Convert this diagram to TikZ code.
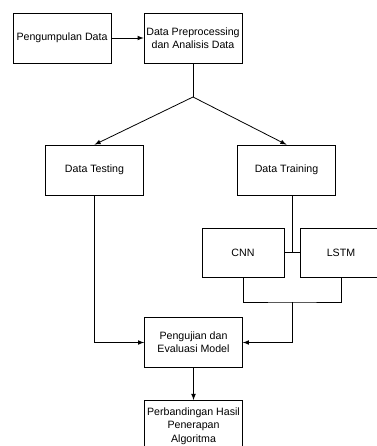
\documentclass[tikz,border=0pt]{standalone}
\usepackage{amssymb,amsmath}
\usepackage{fontspec}
\setmainfont{Liberation Sans}
\usepackage{tikz}
\usetikzlibrary{positioning}
\tikzstyle{every picture}+=[remember picture]

\begin{document}
\begin{tikzpicture}[x=0.02646cm,y=-0.02646cm,>=latex,line width=0.6pt]
\tikzstyle{box}=[draw,fill=white,minimum width=2.59cm,minimum height=1.32cm,
	align=center,inner sep=1pt,font=\fontsize{8}{10}\selectfont]
\tikzstyle{small box}=[box,minimum width=2.17cm,minimum height=1.30cm]
	\clip (0,0) rectangle (377,446);
	\fill[white] (0,0) rectangle (377,446);
    \node[box] (kumpul) at (62,38) {Pengumpulan Data};
    \node[box] (prep) at (193,38) {Data Preprocessing\\dan Analisis Data};
    \node[box] (testing) at (94.5,170) {Data Testing};
    \node[box] (training) at (286.5,170) {Data Training};
    \node[small box] (cnn) at (243,252.5) {CNN};
    \node[small box] (lstm) at (341,252.5) {LSTM};
    \node[box] (uji) at (193.5,342.5) {Pengujian dan\\Evaluasi Model};
    \node[box,minimum height=1.35cm] (banding) at (193.5,426) {Perbandingan Hasil\\Penerapan\\Algoritma};
	%    split points
    \coordinate (cabang) at (193,97);
    \coordinate (gabung1) at (292,252.5);
    \coordinate (gabung2) at (292,302);

    \draw[->] (kumpul) -- (prep);
    \draw (prep.south) -- (cabang);
    \draw[->] (cabang) -- (testing.north);
    \draw[->] (cabang) -- (training.north);
    \draw (training.south -| gabung1) -- (gabung1);
    \draw (cnn.east) -- (lstm.west);
    \draw (cnn.south) |- (gabung2) -| (lstm.south);
    \draw[->] (gabung2) |- (uji.east);
    \draw[->] (testing.south) |- (uji.west);
    \draw[->] (uji) -- (banding);
\end{tikzpicture}
\end{document}
